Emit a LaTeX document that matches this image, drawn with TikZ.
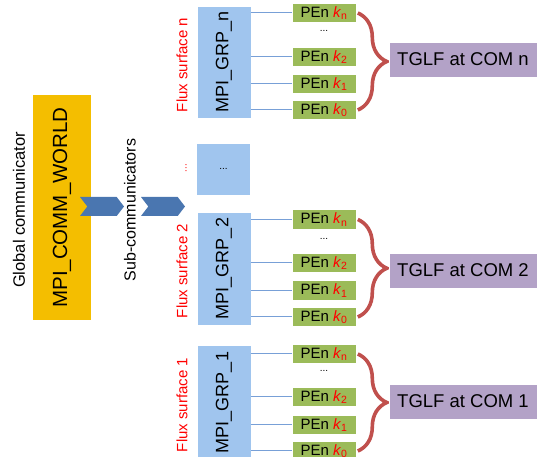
\documentclass[tikz,border=0pt]{standalone}
\usepackage{fontspec}
\setmainfont{Liberation Sans}
\usetikzlibrary{shapes.symbols,decorations.pathreplacing}

\definecolor{worldyellow}{RGB}{244,190,0}
\definecolor{grpblue}{RGB}{160,197,238}
\definecolor{pengreen}{RGB}{155,187,89}
\definecolor{tglfpurple}{RGB}{179,162,199}
\definecolor{chevblue}{RGB}{74,118,176}
\definecolor{bracered}{RGB}{192,80,77}
\definecolor{linkblue}{RGB}{120,160,215}

\begin{document}
\begin{tikzpicture}[x=1pt, y=-1pt,
		grpbox/.style={fill=grpblue, draw=white, line width=0.6pt, minimum width=54pt, inner sep=0pt, font=\fontsize{18}{18}\selectfont},
		penbox/.style={fill=pengreen, draw=white, line width=0.6pt, minimum width=64pt, minimum height=19.5pt, inner sep=0pt, font=\fontsize{15}{15}\selectfont},
		tglfbox/.style={fill=tglfpurple, draw=white, line width=0.6pt, minimum width=148pt, minimum height=35pt, inner sep=0pt, font=\fontsize{18.5}{18.5}\selectfont},
		fluxlabel/.style={rotate=90, text=red, font=\fontsize{15}{15}\selectfont},
		chev/.style={shape=signal, signal from=west, signal to=east, signal pointer angle=105, fill=chevblue, minimum width=44pt, minimum height=19pt, inner sep=0pt},
		link/.style={draw=linkblue, line width=1pt},
		brace/.style={decorate, decoration={brace, amplitude=29pt}, draw=bracered, line width=3.6pt},
		dots/.style={font=\fontsize{10}{10}\selectfont}]

		\useasboundingbox (0,0) rectangle (542,457);
		\clip (0,0) rectangle (542,457);

		% global communicator
		\node[fill=worldyellow, minimum width=58pt, minimum height=225pt, inner sep=0pt, font=\fontsize{20.5}{20.5}\selectfont] (world) at (62,207.5) {\rotatebox{90}{MPI\_COMM\_WORLD}};
		\node[rotate=90, font=\fontsize{16.5}{16.5}\selectfont] (globlabel) at (19,210) {Global communicator};
		\node[chev] (chevA) at (102,206.5) {};
		\node[chev] (chevB) at (163,206.5) {};
		\node[rotate=90, font=\fontsize{16}{16}\selectfont] (sublabel) at (130,210) {Sub-communicators};

		% flux surface n
		\node[grpbox, minimum height=112pt] (grpn) at (224,62) {\rotatebox{90}{MPI\_GRP\_n}};
		\node[fluxlabel] (fluxn) at (182,65) {Flux surface n};
		\node[penbox] (gn-kn) at (324,13) {PEn \textcolor{red}{\textit{k}\textsubscript{n}}};
		\node[dots] (gn-dots) at (324,31) {...};
		\node[penbox] (gn-k2) at (324,57) {PEn \textcolor{red}{\textit{k}\textsubscript{2}}};
		\node[penbox] (gn-k1) at (324,84) {PEn \textcolor{red}{\textit{k}\textsubscript{1}}};
		\node[penbox] (gn-k0) at (324,110) {PEn \textcolor{red}{\textit{k}\textsubscript{0}}};
		\draw[link] (gn-kn.west -| grpn.east) -- (gn-kn.west);
		\draw[link] (gn-k2.west -| grpn.east) -- (gn-k2.west);
		\draw[link] (gn-k1.west -| grpn.east) -- (gn-k1.west);
		\draw[link] (gn-k0.west -| grpn.east) -- (gn-k0.west);
		\draw[brace] ([xshift=1.5pt]gn-kn.east) -- ([xshift=1.5pt]gn-k0.east);
		\node[tglfbox] (tglfn) at (463,59.5) {TGLF at COM n};

		% the ones in between
		\node[grpbox, minimum height=52pt] (grpdots) at (223.5,169) {};
		\node[dots] at (grpdots.center) {...};
		\node[rotate=90, text=red, dots] (fluxdots) at (186,168) {...};

		% flux surface 2
		\node[grpbox, minimum height=113pt] (grp2) at (224,268.5) {\rotatebox{90}{MPI\_GRP\_2}};
		\node[fluxlabel] (flux2) at (182,271) {Flux surface 2};
		\node[penbox] (g2-kn) at (324,219.5) {PEn \textcolor{red}{\textit{k}\textsubscript{n}}};
		\node[dots] (g2-dots) at (324,239) {...};
		\node[penbox] (g2-k2) at (324,263) {PEn \textcolor{red}{\textit{k}\textsubscript{2}}};
		\node[penbox] (g2-k1) at (324,290.5) {PEn \textcolor{red}{\textit{k}\textsubscript{1}}};
		\node[penbox] (g2-k0) at (324,317) {PEn \textcolor{red}{\textit{k}\textsubscript{0}}};
		\draw[link] (g2-kn.west -| grp2.east) -- (g2-kn.west);
		\draw[link] (g2-k2.west -| grp2.east) -- (g2-k2.west);
		\draw[link] (g2-k1.west -| grp2.east) -- (g2-k1.west);
		\draw[link] (g2-k0.west -| grp2.east) -- (g2-k0.west);
		\draw[brace] ([xshift=1.5pt]g2-kn.east) -- ([xshift=1.5pt]g2-k0.east);
		\node[tglfbox] (tglf2) at (463,270.5) {TGLF at COM 2};

		% flux surface 1
		\node[grpbox, minimum height=115pt] (grp1) at (224,402.5) {\rotatebox{90}{MPI\_GRP\_1}};
		\node[fluxlabel] (flux1) at (182,405) {Flux surface 1};
		\node[penbox] (g1-kn) at (324,354) {PEn \textcolor{red}{\textit{k}\textsubscript{n}}};
		\node[dots] (g1-dots) at (324,371) {...};
		\node[penbox] (g1-k2) at (324,397) {PEn \textcolor{red}{\textit{k}\textsubscript{2}}};
		\node[penbox] (g1-k1) at (324,425) {PEn \textcolor{red}{\textit{k}\textsubscript{1}}};
		\node[penbox] (g1-k0) at (324,451) {PEn \textcolor{red}{\textit{k}\textsubscript{0}}};
		\draw[link] (g1-kn.west -| grp1.east) -- (g1-kn.west);
		\draw[link] (g1-k2.west -| grp1.east) -- (g1-k2.west);
		\draw[link] (g1-k1.west -| grp1.east) -- (g1-k1.west);
		\draw[link] (g1-k0.west -| grp1.east) -- (g1-k0.west);
		\draw[brace] ([xshift=1.5pt]g1-kn.east) -- ([xshift=1.5pt]g1-k0.east);
		\node[tglfbox] (tglf1) at (463,401.5) {TGLF at COM 1};

	\end{tikzpicture}
\end{document}
